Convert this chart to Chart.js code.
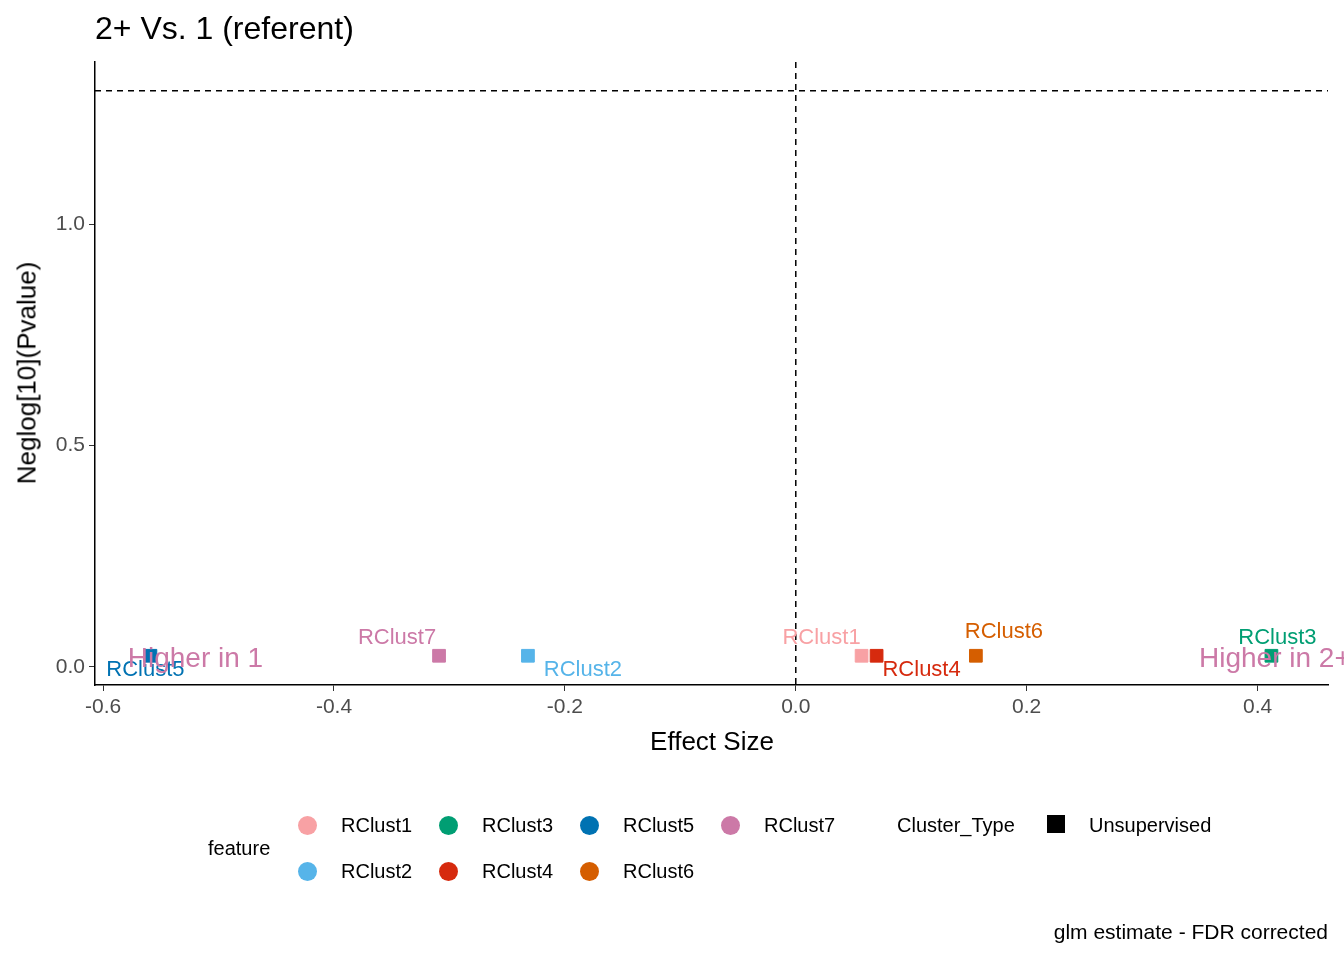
<!DOCTYPE html>
<html><head><meta charset="utf-8">
<script src="https://cdn.jsdelivr.net/npm/chart.js@4/dist/chart.umd.min.js"></script>
<style>
body{margin:0;background:#fff;font-family:Arial,"Liberation Sans",sans-serif;}
#wrap{position:relative;width:1344px;height:960px;}
canvas{position:absolute;left:0;top:0;}
.t{position:absolute;white-space:nowrap;color:#000;}
.dot{position:absolute;width:19px;height:19px;border-radius:50%;}
</style></head><body>
<div id="wrap">
<canvas id="c" width="1344" height="960"></canvas>
<div class="t" style="left:95px;top:10px;font-size:32px;">2+ Vs. 1 (referent)</div>
<div class="t" style="left:712px;top:726px;font-size:26px;transform:translateX(-50%);">Effect Size</div>
<div class="t" style="left:27px;top:373px;font-size:26px;transform:translate(-50%,-50%) rotate(-90deg);">Neglog[10](Pvalue)</div>
<div class="t" style="right:16px;top:920px;font-size:21px;">glm estimate - FDR corrected</div>
<div id="legend"></div>
</div>
<script>
const features = ['RClust1','RClust2','RClust3','RClust4','RClust5','RClust6','RClust7'];
const colors = ['#F8A1A4','#56B4E9','#009E73','#D62A0E','#0072B2','#D55E00','#CC79A7'];
const effect = [0.057, -0.232, 0.412, 0.070, -0.559, 0.156, -0.309];
const neglogP = [0.025, 0.025, 0.025, 0.025, 0.025, 0.025, 0.025];
const xTicks = [-0.6, -0.4, -0.2, 0.0, 0.2, 0.4];
const yTicks = [0.0, 0.5, 1.0];
const threshold = 1.301;
// label offsets in px relative to the point
const labelDx = [-40, 55, 6, 45, -5, 28, -42];
const labelDy = [-18, 14, -18, 14, 14, -24, -18];
const notes = [{text:'Higher in 1', x:-0.52, y:0.018, c:'#CC79A7'}, {text:'Higher in 2+', x:0.415, y:0.018, c:'#CC79A7'}];

const labels = {
  id:'labels',
  afterDatasetsDraw(chart){
    const {ctx, scales:{x, y}, chartArea:a} = chart;
    ctx.save();
    ctx.setLineDash([6,5]); ctx.strokeStyle='#000'; ctx.lineWidth=1.5;
    ctx.beginPath(); ctx.moveTo(a.left, y.getPixelForValue(threshold)); ctx.lineTo(a.right, y.getPixelForValue(threshold));
    ctx.moveTo(x.getPixelForValue(0), a.top); ctx.lineTo(x.getPixelForValue(0), a.bottom); ctx.stroke();
    ctx.setLineDash([]);
    ctx.textAlign='center'; ctx.textBaseline='middle';
    ctx.font='22px Arial';
    features.forEach((f,i)=>{
      ctx.fillStyle=colors[i];
      ctx.fillText(f, x.getPixelForValue(effect[i])+labelDx[i], y.getPixelForValue(neglogP[i])+labelDy[i]);
    });
    ctx.font='28px Arial';
    notes.forEach(n=>{ctx.fillStyle=n.c; ctx.fillText(n.text, x.getPixelForValue(n.x), y.getPixelForValue(n.y));});
    ctx.restore();
  }
};

new Chart(document.getElementById('c'), {
  type:'scatter',
  data:{datasets: features.map((f,i)=>({label:f, data:[{x:effect[i], y:neglogP[i]}],
    pointStyle:'rect', radius:9, backgroundColor:colors[i], borderColor:colors[i]}))},
  options:{
    responsive:false, animation:false,
    layout:{padding:{top:62, right:16, left:0, bottom:0}},
    plugins:{legend:{display:false}, tooltip:{enabled:false}},
    scales:{
      x:{min:-0.607, max:0.461, afterFit:s=>{s.height=275;},
        afterBuildTicks:s=>{s.ticks=xTicks.map(v=>({value:v}));},
        ticks:{callback:v=>v.toFixed(1), color:'#4d4d4d', font:{size:21, family:'Arial'}, padding:4},
        grid:{drawOnChartArea:false, tickLength:6, color:'#333'}, border:{color:'#000', width:1.5}},
      y:{min:-0.041, max:1.366, afterFit:s=>{s.width=95;},
        afterBuildTicks:s=>{s.ticks=yTicks.map(v=>({value:v}));},
        ticks:{callback:v=>v.toFixed(1), color:'#4d4d4d', font:{size:21, family:'Arial'}, padding:4},
        grid:{drawOnChartArea:false, tickLength:6, color:'#333'}, border:{color:'#000', width:1.5}}
    }
  },
  plugins:[labels]
});

// legend
const lg = document.getElementById('legend');
let html = '<div class="t" style="left:208px;top:837px;font-size:20px;">feature</div>';
const order = [[0,1],[2,3],[4,5],[6]];
order.forEach((col,ci)=>col.forEach((fi,ri)=>{
  const lx = 298 + ci*141, ly = 816 + ri*46;
  html += `<div class="dot" style="left:${lx}px;top:${ly}px;background:${colors[fi]}"></div>`;
  html += `<div class="t" style="left:${lx+43}px;top:${ly-2}px;font-size:20px;">${features[fi]}</div>`;
}));
html += '<div class="t" style="left:897px;top:814px;font-size:20px;">Cluster_Type</div>';
html += '<div style="position:absolute;left:1047px;top:815px;width:18px;height:18px;background:#000"></div>';
html += '<div class="t" style="left:1089px;top:814px;font-size:20px;">Unsupervised</div>';
lg.innerHTML = html;
</script>
</body></html>
